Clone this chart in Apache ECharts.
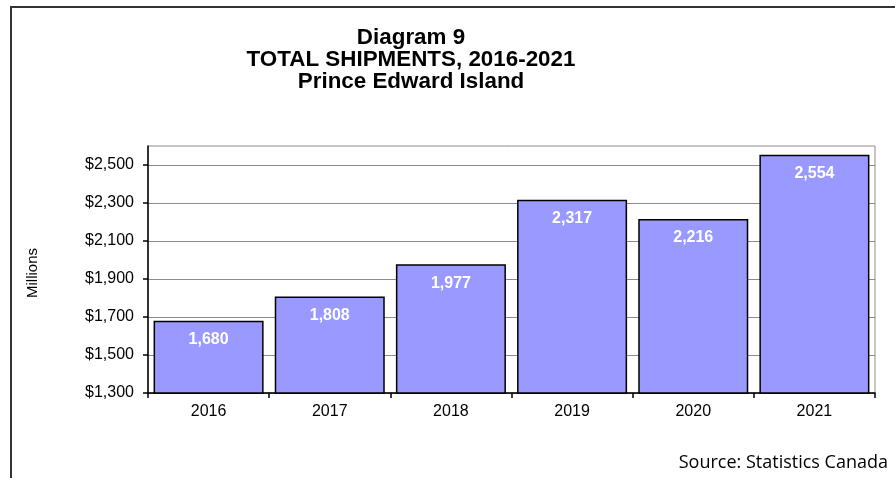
<!DOCTYPE html>
<html>
<head>
<meta charset="utf-8">
<script src="https://cdn.jsdelivr.net/npm/echarts@6/dist/echarts.min.js"></script>
<style>
html,body{margin:0;padding:0;background:#fff;}
#chart{width:895px;height:478px;}
</style>
</head>
<body>
<div id="chart"></div>
<script>
var categories = ['2016', '2017', '2018', '2019', '2020', '2021'];
var shipments = [1680, 1808, 1977, 2317, 2216, 2554];
var yTicks = [1300, 1500, 1700, 1900, 2100, 2300, 2500];
var titleLines = ['Diagram 9', 'TOTAL SHIPMENTS, 2016-2021', 'Prince Edward Island'];
var yName = 'Millions';
var sourceText = 'Source: Statistics Canada';

var FONT = 'Liberation Sans, Arial, sans-serif';
var chart = echarts.init(document.getElementById('chart'), null, {renderer: 'canvas'});
chart.setOption({
  backgroundColor: '#ffffff',
  animation: false,
  grid: {
    left: 148, right: 20, top: 146, bottom: 85,
    show: true, borderColor: '#8c8c8c', borderWidth: 1, backgroundColor: 'transparent'
  },
  xAxis: {
    type: 'category',
    data: categories,
    axisLine: {lineStyle: {color: '#000', width: 1.5}},
    axisTick: {show: true, length: 5, alignWithLabel: false, lineStyle: {color: '#000', width: 1.5}},
    axisLabel: {color: '#000', fontSize: 16, fontFamily: FONT, margin: 11},
    splitLine: {show: false}
  },
  yAxis: {
    type: 'value',
    min: 1300, max: 2600, interval: 200,
    axisLine: {show: true, lineStyle: {color: '#000', width: 1.5}},
    axisTick: {show: true, length: 5, customValues: yTicks, lineStyle: {color: '#000', width: 1.5}},
    axisLabel: {
      color: '#000', fontSize: 16, fontFamily: FONT, margin: 14,
      customValues: yTicks,
      formatter: function (v) { return v > 2500 ? '' : '$' + v.toLocaleString('en-US'); }
    },
    splitLine: {show: true, lineStyle: {color: '#8c8c8c', width: 1.2}}
  },
  series: [{
    type: 'bar',
    data: shipments,
    barCategoryGap: '9.2%',
    itemStyle: {color: '#9999ff', borderColor: '#000', borderWidth: 1.5},
    label: {
      show: true, position: 'insideTop', distance: 11,
      color: '#fff', fontSize: 16, fontWeight: 'bold', fontFamily: FONT,
      formatter: function (p) { return p.value.toLocaleString('en-US'); }
    }
  }],
  graphic: [
    {
      type: 'rect', silent: true, z: -1,
      shape: {x: 11, y: 7, width: 1200, height: 1200},
      style: {fill: 'none', stroke: '#333', lineWidth: 2}
    },
    {
      type: 'text', silent: true,
      style: {
        text: titleLines.join('\n'), x: 411, y: 27, align: 'center', verticalAlign: 'top',
        fontSize: 22.4, fontWeight: 'bold', fontFamily: FONT, lineHeight: 22, fill: '#000'
      }
    },
    {
      type: 'text', silent: true, x: 33, y: 273, rotation: Math.PI / 2,
      style: {
        text: yName, x: 0, y: 0, align: 'center', verticalAlign: 'middle',
        fontSize: 15, fontFamily: FONT, fill: '#000'
      }
    },
    {
      type: 'text', silent: true,
      style: {
        text: sourceText, x: 888, y: 463, align: 'right', verticalAlign: 'middle',
        fontSize: 18, fontFamily: 'Open Sans, Noto Sans, sans-serif', fill: '#000'
      }
    }
  ]
});
</script>
</body>
</html>
